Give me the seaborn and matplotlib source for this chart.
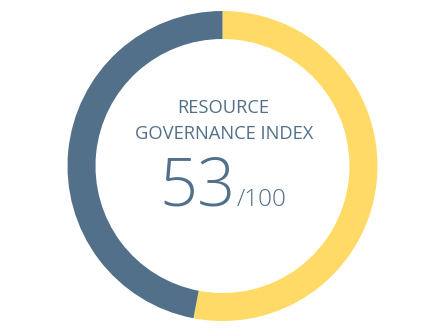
import matplotlib
matplotlib.use("Agg")
import matplotlib.pyplot as plt
import seaborn as sns

labels = ["Score", "Remaining"]
values = [53, 47]
colors = ["#FFDA66", "#52708A"]
title_lines = ["RESOURCE", "GOVERNANCE INDEX"]
score_text = "53"
max_text = "/100"

sns.set_theme(style="white")
plt.rcParams['font.family'] = ['Open Sans', 'DejaVu Sans']

fig = plt.figure(figsize=(4.44, 3.34), dpi=100)
ax = fig.add_axes([0, 0, 1, 1])
ax.pie(values, colors=colors, startangle=90, counterclock=False,
       center=(222.5, 168), radius=155, frame=True,
       wedgeprops=dict(width=28, linewidth=0))
ax.set_xlim(0, 444)
ax.set_ylim(0, 334)
ax.set_aspect('equal')
ax.axis('off')

txt_color = "#52708A"
ax.text(223, 334 - 113, title_lines[0], ha='center', va='baseline',
        fontsize=13.2, color=txt_color)
ax.text(224, 334 - 139, title_lines[1], ha='center', va='baseline',
        fontsize=13.2, color=txt_color)
ax.text(236, 334 - 206, score_text, ha='right', va='baseline',
        fontsize=48, color=txt_color, fontweight='light')
ax.text(237, 334 - 206, max_text, ha='left', va='baseline',
        fontsize=17.5, color=txt_color, fontweight='light')

fig.savefig("out.png", dpi=100, facecolor='white')
